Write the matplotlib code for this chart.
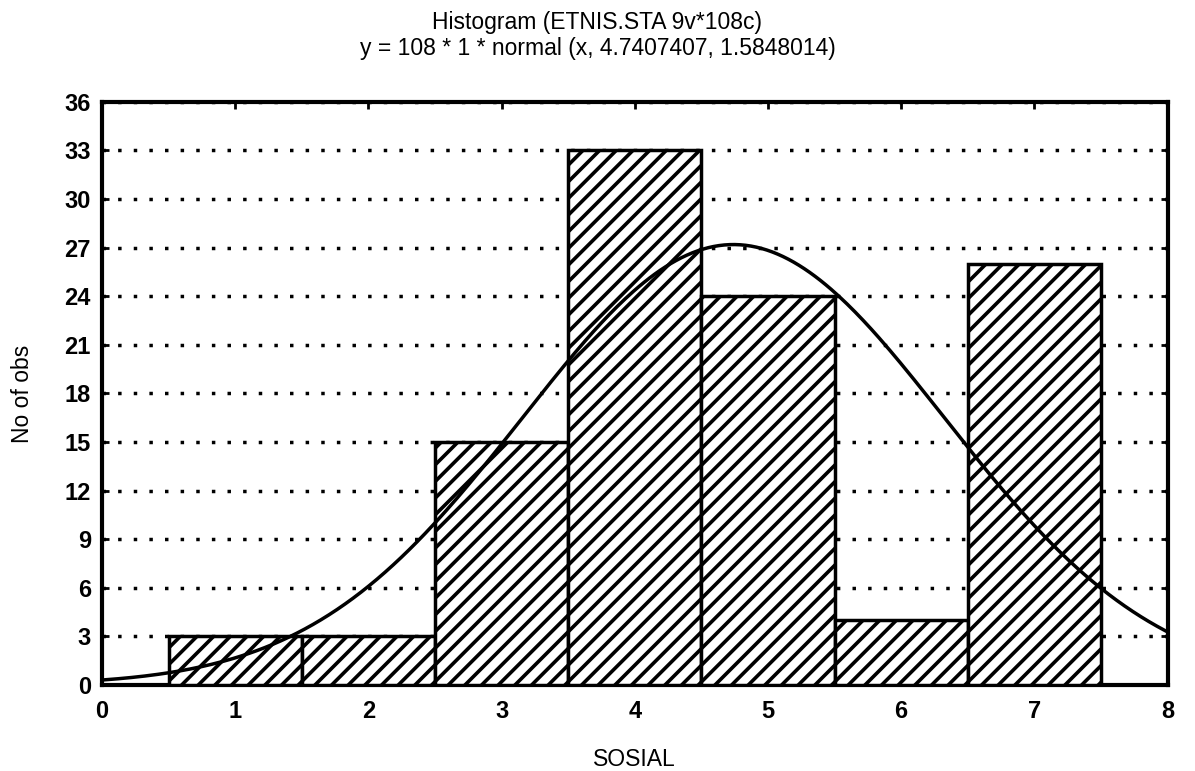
import numpy as np
import matplotlib.pyplot as plt

plt.rcParams['font.family'] = ['Liberation Sans', 'DejaVu Sans']
plt.rcParams['hatch.linewidth'] = 2.6

# histogram data
bins = [1, 2, 3, 4, 5, 6, 7]
counts = [3, 3, 15, 33, 24, 4, 26]
n_obs = 108
mean = 4.7407407
sd = 1.5848014

fig = plt.figure(figsize=(11.95, 7.71), dpi=100)
ax = fig.add_axes([0.0854, 0.1115, 0.8916, 0.7565])

ax.bar(bins, counts, width=1.0, facecolor='white', edgecolor='black',
       linewidth=2.5, hatch='//', zorder=3)

# fitted normal curve
xs = np.linspace(0, 8, 400)
ys = n_obs * 1 * np.exp(-0.5 * ((xs - mean) / sd) ** 2) / (sd * np.sqrt(2 * np.pi))
ax.plot(xs, ys, color='black', linewidth=2.5, zorder=4)

ax.set_xlim(0, 8)
ax.set_ylim(0, 36)
ax.set_xticks(range(0, 9))
ax.set_yticks(range(0, 37, 3))
ax.yaxis.grid(True, linestyle=(0, (1, 3.5)), linewidth=2.5, color='black')
ax.set_axisbelow(True)
for s in ax.spines.values():
    s.set_linewidth(3)
ax.tick_params(direction='in', length=5, width=2, top=True, right=True,
               labelsize=17)
ax.tick_params(axis='x', pad=11)
ax.tick_params(axis='y', pad=8)
for lab in ax.get_xticklabels() + ax.get_yticklabels():
    lab.set_fontweight('bold')

fig.text(0.5, 0.971, 'Histogram (ETNIS.STA 9v*108c)', ha='center', va='center', fontsize=16.5)
fig.text(0.5, 0.937, 'y = 108 * 1 * normal (x, 4.7407407, 1.5848014)', ha='center', va='center', fontsize=16.5)
ax.set_xlabel('SOSIAL', fontsize=16.5, labelpad=18)
ax.set_ylabel('No of obs', fontsize=16.5, labelpad=22)

fig.savefig('out.png', dpi=100)
